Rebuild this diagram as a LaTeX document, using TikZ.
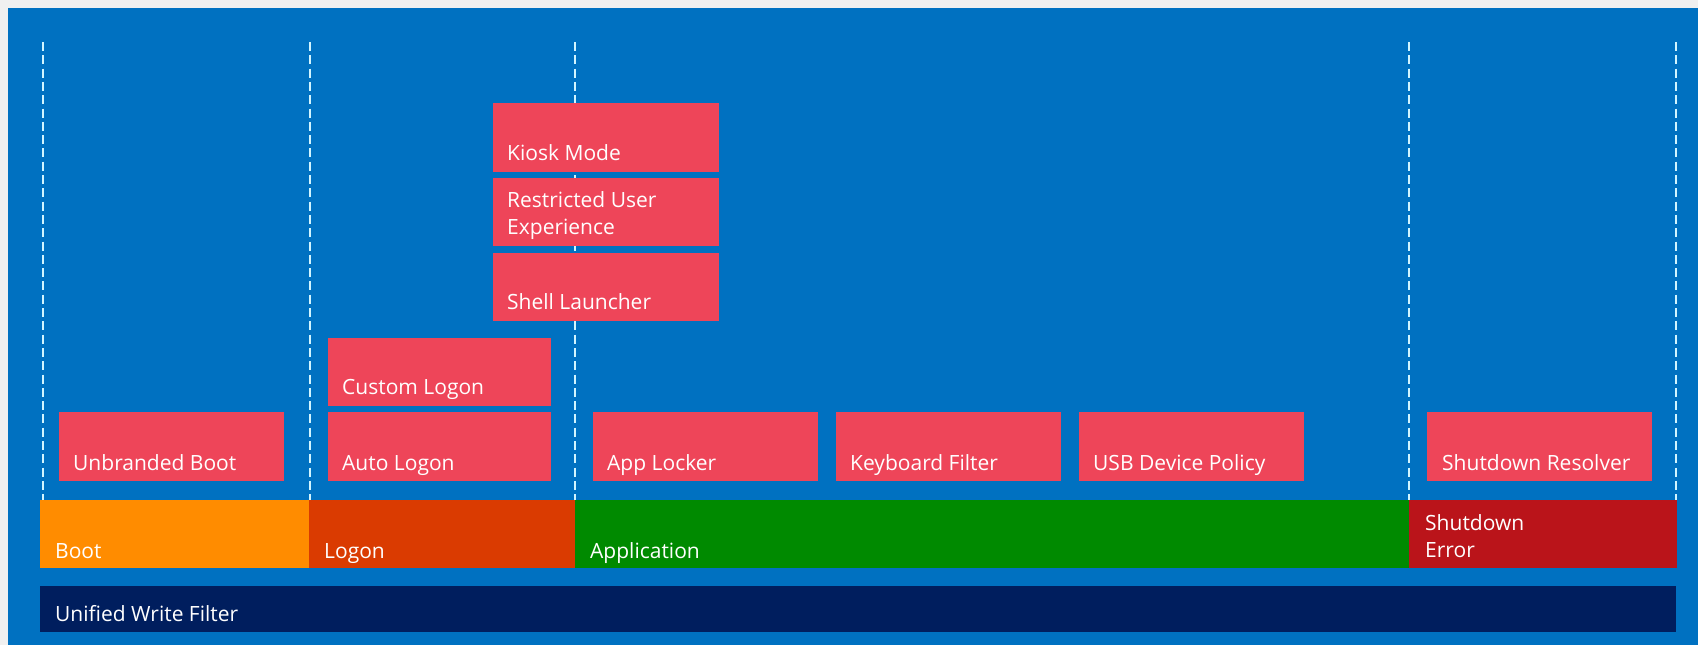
\documentclass[tikz,border=0pt]{standalone}
\usepackage{fontspec}
\setmainfont{Open Sans}
\usepackage{tikz}
\usetikzlibrary{calc}
\definecolor{pagegray}{RGB}{240,240,240}
\definecolor{bgblue}{RGB}{0,113,193}
\definecolor{featred}{RGB}{238,69,89}
\definecolor{bootorange}{RGB}{255,140,0}
\definecolor{logonred}{RGB}{218,59,1}
\definecolor{appgreen}{RGB}{0,138,0}
\definecolor{shutred}{RGB}{186,20,26}
\definecolor{uwfnavy}{RGB}{0,30,94}
\definecolor{dashcol}{RGB}{210,245,255}
\tikzstyle{feat} = [fill=featred, draw=none, anchor=north west, inner sep=0, minimum height=69]
\tikzstyle{phase} = [draw=none, anchor=north west, inner sep=0, minimum height=68]
\tikzstyle{lbl} = [text=white, anchor=base west, inner sep=0, align=left, font=\fontsize{21}{27}\selectfont]
\tikzstyle{divider} = [draw=dashcol, line width=2.4, dash pattern=on 9pt off 4.3pt]

\begin{document}
\begin{tikzpicture}[x=1pt,y=-1pt]
			\useasboundingbox (0,0) rectangle (1698,645);
			\fill[pagegray] (0,0) rectangle (1698,645);
			\fill[bgblue] (8,8) rectangle (1698,645);
			\draw[divider] (43,42) -- (43,500);
			\draw[divider] (310,42) -- (310,500);
			\draw[divider] (575,42) -- (575,500);
			\draw[divider] (1409,42) -- (1409,500);
			\draw[divider] (1676,42) -- (1676,500);

			\node[feat, minimum width=225] (unbranded) at (59,412) {};
			\node[lbl] (unbrandedtxt) at ([xshift=14,yshift=11]unbranded.south west) {Unbranded Boot};
			\node[feat, minimum width=223] (autologon) at (328,412) {};
			\node[lbl] (autologontxt) at ([xshift=14,yshift=11]autologon.south west) {Auto Logon};
			\node[feat, minimum width=223, minimum height=68] (customlogon) at (328,338) {};
			\node[lbl] (customlogontxt) at ([xshift=14,yshift=12]customlogon.south west) {Custom Logon};
			\node[feat, minimum width=226, minimum height=68] (shell) at (493,253) {};
			\node[lbl] (shelltxt) at ([xshift=14,yshift=12]shell.south west) {Shell Launcher};
			\node[feat, minimum width=226, minimum height=68] (restricted) at (493,178) {};
			\node[lbl] (restrictedtxt) at ([xshift=14,yshift=12]restricted.south west) {Restricted User\\Experience};
			\node[feat, minimum width=226] (kiosk) at (493,103) {};
			\node[lbl] (kiosktxt) at ([xshift=14,yshift=12]kiosk.south west) {Kiosk Mode};
			\node[feat, minimum width=225] (applocker) at (593,412) {};
			\node[lbl] (applockertxt) at ([xshift=14,yshift=11]applocker.south west) {App Locker};
			\node[feat, minimum width=225] (keyboard) at (836,412) {};
			\node[lbl] (keyboardtxt) at ([xshift=14,yshift=11]keyboard.south west) {Keyboard Filter};
			\node[feat, minimum width=225] (usb) at (1079,412) {};
			\node[lbl] (usbtxt) at ([xshift=14,yshift=11]usb.south west) {USB Device Policy};
			\node[feat, minimum width=225] (resolver) at (1427,412) {};
			\node[lbl] (resolvertxt) at ([xshift=15,yshift=11]resolver.south west) {Shutdown Resolver};

			\node[phase, fill=bootorange, minimum width=269] (boot) at (40,500) {};
			\node[lbl] (boottxt) at ([xshift=15,yshift=10]boot.south west) {Boot};
			\node[phase, fill=logonred, minimum width=266] (logon) at (309,500) {};
			\node[lbl] (logontxt) at ([xshift=15,yshift=10]logon.south west) {Logon};
			\node[phase, fill=appgreen, minimum width=834] (app) at (575,500) {};
			\node[lbl] (apptxt) at ([xshift=15,yshift=10]app.south west) {Application};
			\node[phase, fill=shutred, minimum width=268] (shuterr) at (1409,500) {};
			\node[lbl] (shuterrtxt) at ([xshift=16,yshift=11]shuterr.south west) {Shutdown\\Error};

			\node[phase, fill=uwfnavy, minimum width=1636, minimum height=46] (uwf) at (40,586) {};
			\node[lbl] (uwftxt) at ([xshift=15,yshift=11]uwf.south west) {Unified Write Filter};
		\end{tikzpicture}
\end{document}
